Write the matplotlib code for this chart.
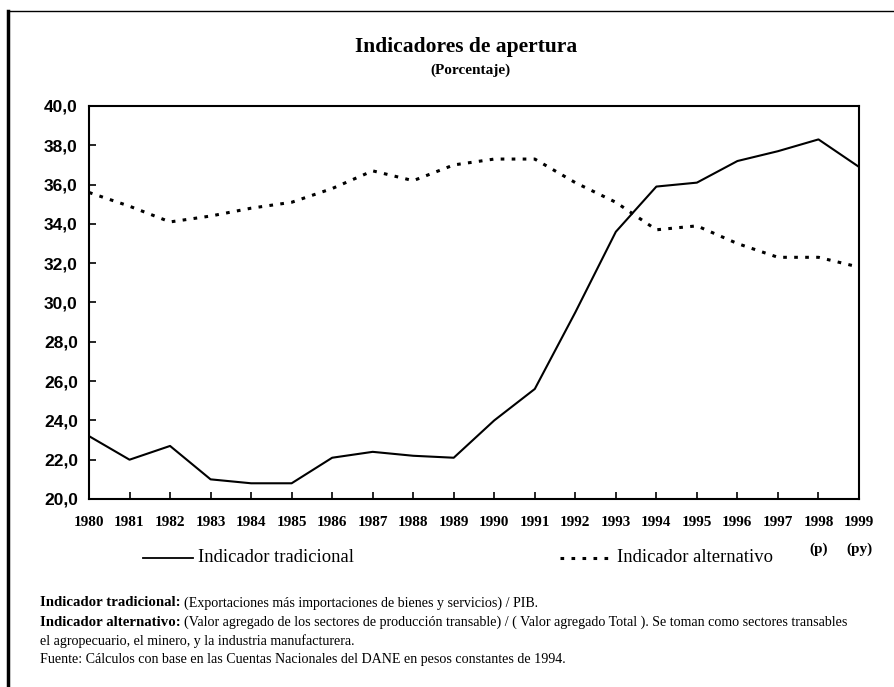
import matplotlib
matplotlib.use("Agg")
import matplotlib.pyplot as plt
from matplotlib.lines import Line2D

years = list(range(1980, 2000))
tradicional = [23.2, 22.0, 22.7, 21.0, 20.8, 20.8, 22.1, 22.4, 22.2, 22.1,
               24.0, 25.6, 29.5, 33.6, 35.9, 36.1, 37.2, 37.7, 38.3, 36.9]
alternativo = [35.6, 34.9, 34.1, 34.4, 34.8, 35.1, 35.8, 36.7, 36.2, 37.0,
               37.3, 37.3, 36.1, 35.1, 33.7, 33.9, 33.0, 32.3, 32.3, 31.8]
year_notes = {1998: "(p)", 1999: "(py)"}

title = "Indicadores de apertura"
subtitle = "(Porcentaje)"
notes = [
    ("Indicador tradicional: ", "(Exportaciones más importaciones de bienes y servicios) / PIB."),
    ("Indicador alternativo: ", "(Valor agregado de los sectores de producción transable) / ( Valor agregado Total ). Se toman como sectores transables"),
    ("", "el agropecuario, el minero, y la industria manufacturera."),
    ("", "Fuente: Cálculos con base en las Cuentas Nacionales del DANE en pesos constantes de 1994."),
]

W, H = 895, 687
serif = "Liberation Serif"
sans = "Liberation Sans"

fig = plt.figure(figsize=(W / 100, H / 100), dpi=100)
ax = fig.add_axes([89 / W, 1 - 499 / H, (859 - 89) / W, (499 - 106) / H])

ax.plot(years, tradicional, color="black", lw=1.5)
ax.plot(years, alternativo, color="black", lw=2.2, linestyle=(0, (1.2, 2.4)))

ax.set_xlim(1980, 1999)
ax.set_ylim(20, 40)
ax.set_xticks(years)
ax.set_xticklabels([str(y) for y in years], fontfamily=serif, fontweight="bold", fontsize=11)
yt = [20 + 2 * i for i in range(11)]
ax.set_yticks(yt)
ax.set_yticklabels([f"{v:.1f}".replace(".", ",") for v in yt], fontfamily=sans,
                   fontweight="bold", fontsize=12.5)
ax.tick_params(axis="both", direction="in", length=5, width=1.2, color="black")
ax.tick_params(axis="x", pad=12)
ax.tick_params(axis="y", pad=8)
for s in ax.spines.values():
    s.set_linewidth(1.5)

for yr, lab in year_notes.items():
    ax.annotate(lab, xy=(yr, 20), xycoords="data", xytext=(0, -36.5), textcoords="offset points",
                ha="center", va="center", fontfamily=serif, fontweight="bold", fontsize=11)

fig.text(466 / W, 1 - 47 / H, title, ha="center", va="center", fontfamily=serif,
         fontweight="bold", fontsize=15.5)
fig.text(470 / W, 1 - 70 / H, subtitle, ha="center", va="center", fontfamily=serif,
         fontweight="bold", fontsize=11)

# legend drawn by hand below the axes
fig.add_artist(Line2D([143 / W, 193 / W], [1 - 558 / H] * 2, color="black", lw=1.3))
fig.text(198 / W, 1 - 558 / H, "Indicador tradicional", ha="left", va="center",
         fontfamily=serif, fontsize=13.4)
fig.add_artist(Line2D([560 / W, 610 / W], [1 - 558 / H] * 2, color="black", lw=2.2,
                      linestyle=(0, (1.2, 2.4))))
fig.text(617 / W, 1 - 558 / H, "Indicador alternativo", ha="left", va="center",
         fontfamily=serif, fontsize=13.4)

# footnotes, bold lead-in followed by regular text
fig.canvas.draw()
renderer = fig.canvas.get_renderer()
for i, (bold, rest) in enumerate(notes):
    y = 1 - (603 + 19 * i) / H
    x = 40 / W
    if bold:
        t = fig.text(x, y, bold, ha="left", va="center", fontfamily=serif,
                     fontweight="bold", fontsize=10.7)
        bb = t.get_window_extent(renderer)
        x = bb.x1 / W
    fig.text(x, y, rest, ha="left", va="center", fontfamily=serif, fontsize=10.1)

# page frame
fig.add_artist(Line2D([8 / W, 8 / W], [0, 1 - 11 / H], color="black", lw=2.5))
fig.add_artist(Line2D([8 / W, 1], [1 - 11 / H] * 2, color="black", lw=1.0))

fig.savefig("out.png", dpi=100)
